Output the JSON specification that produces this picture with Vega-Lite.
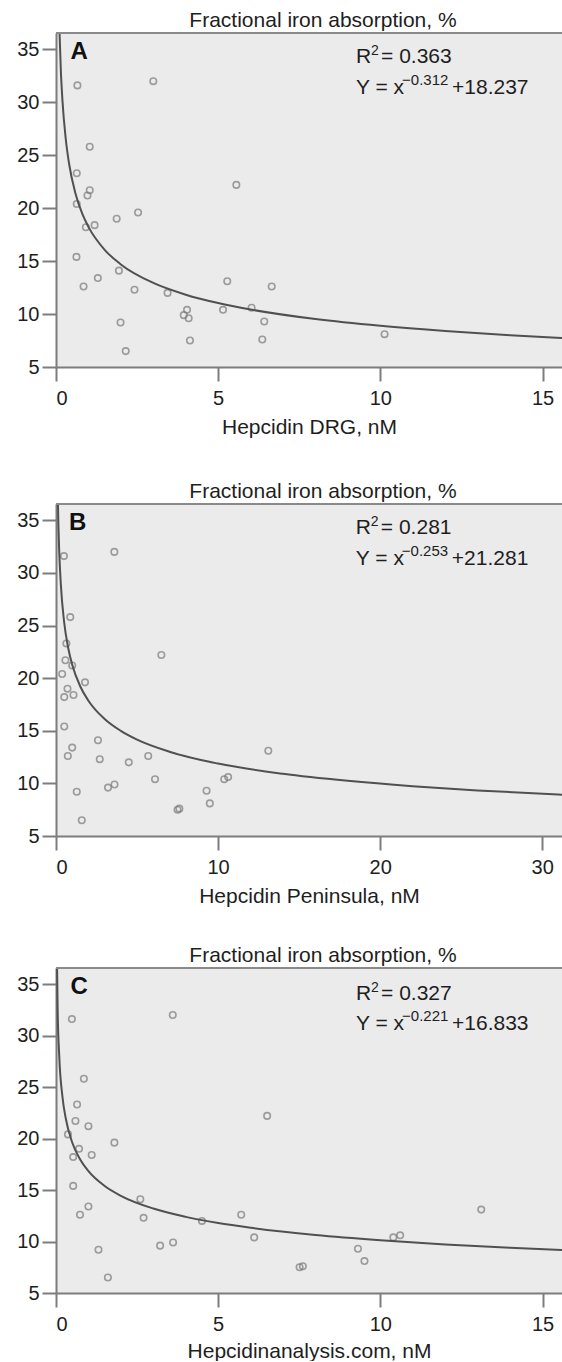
{
  "$schema": "https://vega.github.io/schema/vega-lite/v6.json",
  "padding": {"left": 16, "top": 10, "right": 0, "bottom": 0},
  "spacing": 44,
  "config": {
    "font": "Liberation Sans",
    "view": {"fill": "#ebebeb", "stroke": null},
    "axis": {"domainColor": "#7d7d7d", "domainWidth": 2, "tickColor": "#7d7d7d", "tickWidth": 2, "tickSize": 14, "labelFontSize": 20, "labelColor": "#1e1e1e", "titleFontSize": 21, "titleFontWeight": "normal", "titleColor": "#1e1e1e", "grid": false, "labelFont": "Liberation Sans", "titleFont": "Liberation Sans"},
    "axisX": {"labelPadding": 7, "titlePadding": 8},
    "axisY": {"labelPadding": 3},
    "title": {"fontSize": 21, "fontWeight": "normal", "color": "#1e1e1e", "offset": 1, "anchor": "middle", "frame": "group", "font": "Liberation Sans"}
  },
  "datasets": {
    "subjects": [
      {"absorption": 32.0, "drg": 3.0, "peninsula": 3.6, "ha": 3.6},
      {"absorption": 31.6, "drg": 0.66, "peninsula": 0.49, "ha": 0.49},
      {"absorption": 25.8, "drg": 1.04, "peninsula": 0.88, "ha": 0.86},
      {"absorption": 23.3, "drg": 0.64, "peninsula": 0.64, "ha": 0.65},
      {"absorption": 22.2, "drg": 5.56, "peninsula": 6.5, "ha": 6.51},
      {"absorption": 21.7, "drg": 1.04, "peninsula": 0.58, "ha": 0.6},
      {"absorption": 21.2, "drg": 0.97, "peninsula": 1.0, "ha": 1.0},
      {"absorption": 20.4, "drg": 0.64, "peninsula": 0.38, "ha": 0.37},
      {"absorption": 19.6, "drg": 2.53, "peninsula": 1.79, "ha": 1.8},
      {"absorption": 19.0, "drg": 1.87, "peninsula": 0.71, "ha": 0.71},
      {"absorption": 18.4, "drg": 1.19, "peninsula": 1.08, "ha": 1.1},
      {"absorption": 18.2, "drg": 0.92, "peninsula": 0.51, "ha": 0.53},
      {"absorption": 15.4, "drg": 0.63, "peninsula": 0.51, "ha": 0.53},
      {"absorption": 14.1, "drg": 1.94, "peninsula": 2.59, "ha": 2.6},
      {"absorption": 13.4, "drg": 1.29, "peninsula": 1.0, "ha": 1.0},
      {"absorption": 13.1, "drg": 5.28, "peninsula": 13.1, "ha": 13.11},
      {"absorption": 12.6, "drg": 0.85, "peninsula": 0.73, "ha": 0.74},
      {"absorption": 12.6, "drg": 6.65, "peninsula": 5.69, "ha": 5.71},
      {"absorption": 12.3, "drg": 2.42, "peninsula": 2.7, "ha": 2.7},
      {"absorption": 12.0, "drg": 3.44, "peninsula": 4.49, "ha": 4.5},
      {"absorption": 10.6, "drg": 6.03, "peninsula": 10.62, "ha": 10.61},
      {"absorption": 10.4, "drg": 4.04, "peninsula": 6.11, "ha": 6.11},
      {"absorption": 10.4, "drg": 5.15, "peninsula": 10.38, "ha": 10.4},
      {"absorption": 9.9, "drg": 3.94, "peninsula": 3.61, "ha": 3.61},
      {"absorption": 9.6, "drg": 4.09, "peninsula": 3.21, "ha": 3.21},
      {"absorption": 9.3, "drg": 6.42, "peninsula": 9.29, "ha": 9.31},
      {"absorption": 9.2, "drg": 1.99, "peninsula": 1.28, "ha": 1.31},
      {"absorption": 8.1, "drg": 10.13, "peninsula": 9.49, "ha": 9.51},
      {"absorption": 7.6, "drg": 6.36, "peninsula": 7.61, "ha": 7.61},
      {"absorption": 7.5, "drg": 4.13, "peninsula": 7.5, "ha": 7.51},
      {"absorption": 6.5, "drg": 2.15, "peninsula": 1.59, "ha": 1.6}
    ],
    "curves": [
      {"panel": "A", "x": 0.1, "y": 37.4}, {"panel": "A", "x": 0.15, "y": 32.96}, {"panel": "A", "x": 0.2, "y": 30.13}, {"panel": "A", "x": 0.3, "y": 26.56}, {"panel": "A", "x": 0.4, "y": 24.27}, {"panel": "A", "x": 0.6, "y": 21.39}, {"panel": "A", "x": 0.8, "y": 19.55}, {"panel": "A", "x": 1, "y": 18.24}, {"panel": "A", "x": 1.5, "y": 16.07}, {"panel": "A", "x": 2, "y": 14.69}, {"panel": "A", "x": 3, "y": 12.94}, {"panel": "A", "x": 4, "y": 11.83}, {"panel": "A", "x": 5, "y": 11.04}, {"panel": "A", "x": 6, "y": 10.43}, {"panel": "A", "x": 8, "y": 9.53}, {"panel": "A", "x": 10, "y": 8.89}, {"panel": "A", "x": 12, "y": 8.4}, {"panel": "A", "x": 14, "y": 8.01}, {"panel": "A", "x": 15.7, "y": 7.72},
      {"panel": "B", "x": 0.1, "y": 38.11}, {"panel": "B", "x": 0.15, "y": 34.39}, {"panel": "B", "x": 0.2, "y": 31.98}, {"panel": "B", "x": 0.3, "y": 28.86}, {"panel": "B", "x": 0.5, "y": 25.36}, {"panel": "B", "x": 0.75, "y": 22.89}, {"panel": "B", "x": 1, "y": 21.28}, {"panel": "B", "x": 1.5, "y": 19.21}, {"panel": "B", "x": 2, "y": 17.86}, {"panel": "B", "x": 3, "y": 16.12}, {"panel": "B", "x": 4, "y": 14.99}, {"panel": "B", "x": 5, "y": 14.16}, {"panel": "B", "x": 7, "y": 13.01}, {"panel": "B", "x": 10, "y": 11.88}, {"panel": "B", "x": 14, "y": 10.91}, {"panel": "B", "x": 18, "y": 10.24}, {"panel": "B", "x": 22, "y": 9.73}, {"panel": "B", "x": 26, "y": 9.33}, {"panel": "B", "x": 31.3, "y": 8.91},
      {"panel": "C", "x": 0.02, "y": 39.96}, {"panel": "C", "x": 0.05, "y": 32.64}, {"panel": "C", "x": 0.1, "y": 28.0}, {"panel": "C", "x": 0.2, "y": 24.02}, {"panel": "C", "x": 0.3, "y": 21.97}, {"panel": "C", "x": 0.5, "y": 19.62}, {"panel": "C", "x": 0.75, "y": 17.94}, {"panel": "C", "x": 1, "y": 16.83}, {"panel": "C", "x": 1.5, "y": 15.39}, {"panel": "C", "x": 2, "y": 14.44}, {"panel": "C", "x": 3, "y": 13.2}, {"panel": "C", "x": 4, "y": 12.39}, {"panel": "C", "x": 5, "y": 11.79}, {"panel": "C", "x": 6, "y": 11.33}, {"panel": "C", "x": 8, "y": 10.63}, {"panel": "C", "x": 10, "y": 10.12}, {"panel": "C", "x": 12, "y": 9.72}, {"panel": "C", "x": 14, "y": 9.39}, {"panel": "C", "x": 15.7, "y": 9.16}
    ],
    "notes": [
      {"panel": "A", "letter": "A", "r": "R", "two": "2", "r2": "= 0.363", "yx": "Y = x", "exp": "−0.312", "k": "+18.237"},
      {"panel": "B", "letter": "B", "r": "R", "two": "2", "r2": "= 0.281", "yx": "Y = x", "exp": "−0.253", "k": "+21.281"},
      {"panel": "C", "letter": "C", "r": "R", "two": "2", "r2": "= 0.327", "yx": "Y = x", "exp": "−0.221", "k": "+16.833"}
    ]
  },
  "vconcat": [
    {
      "width": 506, "height": 334,
      "title": {"text": "Fractional iron absorption, %", "dx": 14},
      "layer": [
        {"data": {"name": "subjects"},
         "mark": {"type": "point", "shape": "circle", "filled": false, "size": 42, "stroke": "#7a7a7a", "strokeWidth": 1.6},
         "encoding": {
           "x": {"field": "drg", "type": "quantitative", "scale": {"domain": [0, 15.6], "nice": false, "zero": false}, "axis": {"values": [0, 5, 10, 15], "title": "Hepcidin DRG, nM"}},
           "y": {"field": "absorption", "type": "quantitative", "scale": {"domain": [5, 36.55], "nice": false, "zero": false}, "axis": {"values": [5, 10, 15, 20, 25, 30, 35], "title": null}}}},
        {"data": {"name": "curves"}, "transform": [{"filter": "datum.panel === 'A'"}],
         "mark": {"type": "line", "clip": true, "interpolate": "monotone", "stroke": "#505050", "strokeWidth": 2},
         "encoding": {"x": {"field": "x", "type": "quantitative"}, "y": {"field": "y", "type": "quantitative"}}},
        {"data": {"name": "notes"}, "transform": [{"filter": "datum.panel === 'A'"}],
         "layer": [
           {"mark": {"type": "rule", "stroke": "#8a8a8a", "strokeWidth": 2}, "encoding": {"y": {"datum": 36.55}}},
           {"mark": {"type": "text", "fontSize": 24, "fontWeight": "bold", "align": "left", "baseline": "alphabetic", "color": "#111111"}, "encoding": {"x": {"datum": 0.45}, "y": {"datum": 34.08}, "text": {"field": "letter"}}},
           {"mark": {"type": "text", "fontSize": 21, "align": "left", "baseline": "alphabetic", "color": "#1e1e1e"}, "encoding": {"x": {"datum": 9.25}, "y": {"datum": 33.7}, "text": {"field": "r"}}},
           {"mark": {"type": "text", "fontSize": 14, "align": "left", "baseline": "alphabetic", "dx": 15, "dy": -8, "color": "#1e1e1e"}, "encoding": {"x": {"datum": 9.25}, "y": {"datum": 33.7}, "text": {"field": "two"}}},
           {"mark": {"type": "text", "fontSize": 21, "align": "left", "baseline": "alphabetic", "dx": 25, "color": "#1e1e1e"}, "encoding": {"x": {"datum": 9.25}, "y": {"datum": 33.7}, "text": {"field": "r2"}}},
           {"mark": {"type": "text", "fontSize": 21, "align": "left", "baseline": "alphabetic", "color": "#1e1e1e"}, "encoding": {"x": {"datum": 9.25}, "y": {"datum": 30.75}, "text": {"field": "yx"}}},
           {"mark": {"type": "text", "fontSize": 15, "align": "left", "baseline": "alphabetic", "dx": 46, "dy": -9, "color": "#1e1e1e"}, "encoding": {"x": {"datum": 9.25}, "y": {"datum": 30.75}, "text": {"field": "exp"}}},
           {"mark": {"type": "text", "fontSize": 21, "align": "left", "baseline": "alphabetic", "dx": 96, "color": "#1e1e1e"}, "encoding": {"x": {"datum": 9.25}, "y": {"datum": 30.75}, "text": {"field": "k"}}}
         ]}
      ]
    },
    {
      "spacing": 39,
      "vconcat": [
        {
          "width": 506, "height": 332,
          "title": {"text": "Fractional iron absorption, %", "dx": 14},
          "layer": [
            {"data": {"name": "subjects"},
             "mark": {"type": "point", "shape": "circle", "filled": false, "size": 42, "stroke": "#7a7a7a", "strokeWidth": 1.6},
             "encoding": {
               "x": {"field": "peninsula", "type": "quantitative", "scale": {"domain": [0, 31.22], "nice": false, "zero": false}, "axis": {"values": [0, 10, 20, 30], "title": "Hepcidin Peninsula, nM"}},
               "y": {"field": "absorption", "type": "quantitative", "scale": {"domain": [5, 36.55], "nice": false, "zero": false}, "axis": {"values": [5, 10, 15, 20, 25, 30, 35], "title": null}}}},
            {"data": {"name": "curves"}, "transform": [{"filter": "datum.panel === 'B'"}],
             "mark": {"type": "line", "clip": true, "interpolate": "monotone", "stroke": "#505050", "strokeWidth": 2},
             "encoding": {"x": {"field": "x", "type": "quantitative"}, "y": {"field": "y", "type": "quantitative"}}},
            {"data": {"name": "notes"}, "transform": [{"filter": "datum.panel === 'B'"}],
             "layer": [
               {"mark": {"type": "rule", "stroke": "#8a8a8a", "strokeWidth": 2}, "encoding": {"y": {"datum": 36.55}}},
               {"mark": {"type": "text", "fontSize": 24, "fontWeight": "bold", "align": "left", "baseline": "alphabetic", "color": "#111111"}, "encoding": {"x": {"datum": 0.8}, "y": {"datum": 34.08}, "text": {"field": "letter"}}},
               {"mark": {"type": "text", "fontSize": 21, "align": "left", "baseline": "alphabetic", "color": "#1e1e1e"}, "encoding": {"x": {"datum": 18.5}, "y": {"datum": 33.7}, "text": {"field": "r"}}},
               {"mark": {"type": "text", "fontSize": 14, "align": "left", "baseline": "alphabetic", "dx": 15, "dy": -8, "color": "#1e1e1e"}, "encoding": {"x": {"datum": 18.5}, "y": {"datum": 33.7}, "text": {"field": "two"}}},
               {"mark": {"type": "text", "fontSize": 21, "align": "left", "baseline": "alphabetic", "dx": 25, "color": "#1e1e1e"}, "encoding": {"x": {"datum": 18.5}, "y": {"datum": 33.7}, "text": {"field": "r2"}}},
               {"mark": {"type": "text", "fontSize": 21, "align": "left", "baseline": "alphabetic", "color": "#1e1e1e"}, "encoding": {"x": {"datum": 18.5}, "y": {"datum": 30.75}, "text": {"field": "yx"}}},
               {"mark": {"type": "text", "fontSize": 15, "align": "left", "baseline": "alphabetic", "dx": 46, "dy": -9, "color": "#1e1e1e"}, "encoding": {"x": {"datum": 18.5}, "y": {"datum": 30.75}, "text": {"field": "exp"}}},
               {"mark": {"type": "text", "fontSize": 21, "align": "left", "baseline": "alphabetic", "dx": 96, "color": "#1e1e1e"}, "encoding": {"x": {"datum": 18.5}, "y": {"datum": 30.75}, "text": {"field": "k"}}}
             ]}
          ]
        },
        {
          "width": 506, "height": 325,
          "title": {"text": "Fractional iron absorption, %", "dx": 14},
          "layer": [
            {"data": {"name": "subjects"},
             "mark": {"type": "point", "shape": "circle", "filled": false, "size": 42, "stroke": "#7a7a7a", "strokeWidth": 1.6},
             "encoding": {
               "x": {"field": "ha", "type": "quantitative", "scale": {"domain": [0, 15.6], "nice": false, "zero": false}, "axis": {"values": [0, 5, 10, 15], "title": "Hepcidinanalysis.com, nM", "titlePadding": 6}},
               "y": {"field": "absorption", "type": "quantitative", "scale": {"domain": [5, 36.56], "nice": false, "zero": false}, "axis": {"values": [5, 10, 15, 20, 25, 30, 35], "title": null}}}},
            {"data": {"name": "curves"}, "transform": [{"filter": "datum.panel === 'C'"}],
             "mark": {"type": "line", "clip": true, "interpolate": "monotone", "stroke": "#505050", "strokeWidth": 2},
             "encoding": {"x": {"field": "x", "type": "quantitative"}, "y": {"field": "y", "type": "quantitative"}}},
            {"data": {"name": "notes"}, "transform": [{"filter": "datum.panel === 'C'"}],
             "layer": [
               {"mark": {"type": "rule", "stroke": "#8a8a8a", "strokeWidth": 2}, "encoding": {"y": {"datum": 36.56}}},
               {"mark": {"type": "text", "fontSize": 24, "fontWeight": "bold", "align": "left", "baseline": "alphabetic", "color": "#111111"}, "encoding": {"x": {"datum": 0.45}, "y": {"datum": 34.08}, "text": {"field": "letter"}}},
               {"mark": {"type": "text", "fontSize": 21, "align": "left", "baseline": "alphabetic", "color": "#1e1e1e"}, "encoding": {"x": {"datum": 9.25}, "y": {"datum": 33.5}, "text": {"field": "r"}}},
               {"mark": {"type": "text", "fontSize": 14, "align": "left", "baseline": "alphabetic", "dx": 15, "dy": -8, "color": "#1e1e1e"}, "encoding": {"x": {"datum": 9.25}, "y": {"datum": 33.5}, "text": {"field": "two"}}},
               {"mark": {"type": "text", "fontSize": 21, "align": "left", "baseline": "alphabetic", "dx": 25, "color": "#1e1e1e"}, "encoding": {"x": {"datum": 9.25}, "y": {"datum": 33.5}, "text": {"field": "r2"}}},
               {"mark": {"type": "text", "fontSize": 21, "align": "left", "baseline": "alphabetic", "color": "#1e1e1e"}, "encoding": {"x": {"datum": 9.25}, "y": {"datum": 30.55}, "text": {"field": "yx"}}},
               {"mark": {"type": "text", "fontSize": 15, "align": "left", "baseline": "alphabetic", "dx": 46, "dy": -9, "color": "#1e1e1e"}, "encoding": {"x": {"datum": 9.25}, "y": {"datum": 30.55}, "text": {"field": "exp"}}},
               {"mark": {"type": "text", "fontSize": 21, "align": "left", "baseline": "alphabetic", "dx": 96, "color": "#1e1e1e"}, "encoding": {"x": {"datum": 9.25}, "y": {"datum": 30.55}, "text": {"field": "k"}}}
             ]}
          ]
        }
      ]
    }
  ]
}
